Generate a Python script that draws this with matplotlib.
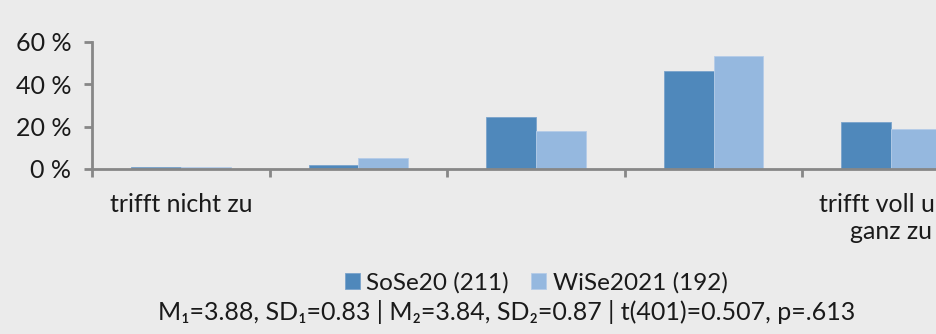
import matplotlib
matplotlib.use("Agg")
import matplotlib.pyplot as plt
import numpy as np
from matplotlib.ticker import FixedLocator, NullFormatter

plt.rcParams['font.family'] = ['Lato', 'DejaVu Sans']

categories = ["trifft nicht zu", "", "", "", "trifft voll und\nganz zu"]
series_names = ["SoSe20 (211)", "WiSe2021 (192)"]
sose = [1.0, 1.9, 24.6, 46.4, 22.3]
wise = [0.9, 5.2, 17.7, 53.1, 18.8]
yticks = [0, 20, 40, 60]
ytick_labels = ["0 %", "20 %", "40 %", "60 %"]
stats = "M₁=3.88, SD₁=0.83 | M₂=3.84, SD₂=0.87 | t(401)=0.507, p=.613"

bg = "#ebebeb"
c1 = "#4f88bb"
c2 = "#95b8df"
axc = "#878787"
fs = 18

W, H = 937, 334
fig = plt.figure(figsize=(W/100, H/100), dpi=100, facecolor=bg)
ax = fig.add_axes([92/W, (H-169)/H, 888/W, 127.3/H])
ax.set_facecolor(bg)

x = np.arange(len(categories))
bw = 0.28
b1 = ax.bar(x - bw/2, sose, bw, color=c1, edgecolor="#7aa3cc", linewidth=0.6, label=series_names[0])
b2 = ax.bar(x + bw/2, wise, bw, color=c2, edgecolor="#b5cce8", linewidth=0.6, label=series_names[1])

ax.set_xlim(-0.5, len(categories) - 0.5)
ax.set_ylim(0, 60)
for s in ["top", "right"]:
    ax.spines[s].set_visible(False)
for s in ["left", "bottom"]:
    ax.spines[s].set_color(axc)
    ax.spines[s].set_linewidth(2)
ax.set_yticks(yticks)
ax.set_yticklabels(ytick_labels, fontsize=fs, color="#1a1a1a")
ax.tick_params(axis='y', length=6, width=2, color=axc, pad=9)
ax.xaxis.set_major_locator(FixedLocator(np.arange(-0.5, len(categories), 1.0)))
ax.xaxis.set_major_formatter(NullFormatter())
ax.tick_params(axis='x', length=6, width=2, color=axc)
for i, lab in enumerate(categories):
    if lab:
        ax.text(i, -11.5, lab, ha='center', va='top', fontsize=fs, color="#1a1a1a",
                linespacing=1.2, transform=ax.transData, clip_on=False)

fig.legend(handles=[b1, b2], labels=series_names, loc='center', bbox_to_anchor=(536/W, 1 - 283/H),
           ncol=2, frameon=False, fontsize=17.5, handlelength=0.62, handleheight=0.62,
           handletextpad=0.25, columnspacing=0.95, labelcolor="#1a1a1a")
fig.text(507/W, 1 - 312/H, stats, ha='center', va='center', fontsize=fs, color="#1a1a1a")

fig.savefig("out.png", dpi=100, facecolor=bg)
